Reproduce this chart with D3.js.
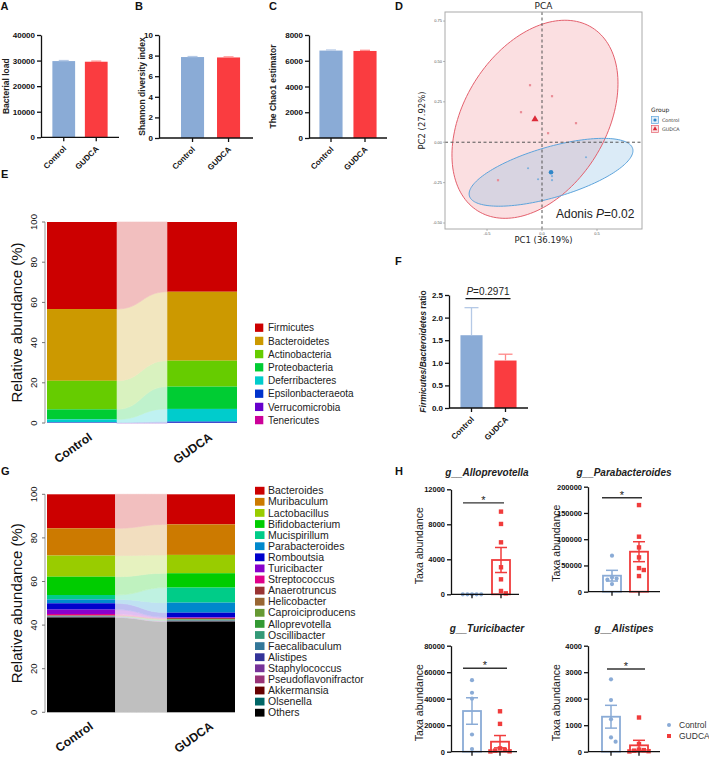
<!DOCTYPE html>
<html><head><meta charset="utf-8">
<script src="https://cdn.jsdelivr.net/npm/d3@7"></script>
<style>body{margin:0;background:#fff} svg{display:block}</style>
</head><body><svg id="chart" width="709" height="757"></svg>
<script>
// ---------------- DATA ----------------
const groups = ["Control", "GUDCA"];
// A-C alpha diversity
const bacterialLoad = [29800, 29550];
const bacterialLoadSem = [220, 220];
const loadTicks = [0, 10000, 20000, 30000, 40000];
const shannonIndex = [7.86, 7.82];
const shannonSem = [0.05, 0.05];
const shannonTicks = [0, 2, 4, 6, 8, 10];
const chao1 = [6790, 6760];
const chao1Sem = [45, 50];
const chaoTicks = [0, 2000, 4000, 6000, 8000];
// D PCA
const pcaControlPoints = [[0.40, -0.093], [-0.127, -0.161], [-0.036, -0.229], [0.091, -0.210], [0.091, -0.235]];
const pcaGudcaPoints = [[-0.109, 0.353], [0.091, 0.285], [-0.191, 0.186], [0.309, 0.118], [0.055, 0.056], [-0.40, -0.235]];
const pcaCentroids = [[0.082, -0.186], [-0.064, 0.142]];
const pcaEllipseU = [[0.742, 0.147], [0.520, 0.567]];
const pcaEllipseV = [[0.064, -0.150], [0.547, -0.233]];
const pcaXTicks = [-0.5, 0, 0.5];
const pcaYTicks = [-0.5, -0.25, 0, 0.25, 0.5, 0.75];
const pcaXLabel = "PC1 (36.19%)";
const pcaYLabel = "PC2 (27.92%)";
const adonisP = "0.02";
// E phylum
const phyla = ["Firmicutes", "Bacteroidetes", "Actinobacteria", "Proteobacteria", "Deferribacteres", "Epsilonbacteraeota", "Verrucomicrobia", "Tenericutes"];
const phylaControl = [43.3, 35.7, 14.2, 5.0, 1.5, 0.2, 0.05, 0.05];
const phylaGudca = [34.7, 34.3, 12.9, 11.1, 6.3, 0.6, 0.05, 0.05];
const phylaColors = ["#CC0000", "#CC9900", "#66CC00", "#00CC33", "#00CCCC", "#0033CC", "#6600CC", "#CC0099"];
const abundanceTicks = [0, 20, 40, 60, 80, 100];
// F
const fbRatio = [1.61, 1.05];
const fbRatioSem = [0.61, 0.14];
const fbTicks = [0, 0.5, 1.0, 1.5, 2.0, 2.5];
const fbP = "0.2971";
// G genus
const genera = ["Bacteroides", "Muribaculum", "Lactobacillus", "Bifidobacterium", "Mucispirillum", "Parabacteroides", "Romboutsia", "Turicibacter", "Streptococcus", "Anaerotruncus", "Helicobacter", "Caproiciproducens", "Alloprevotella", "Oscillibacter", "Faecalibaculum", "Alistipes", "Staphylococcus", "Pseudoflavonifractor", "Akkermansia", "Olsenella", "Others"];
const generaControl = [15.6, 12.5, 9.7, 8.4, 2.0, 1.8, 2.9, 2.0, 0.6, 0.2, 0.1, 0.1, 0.05, 0.1, 0.1, 0.1, 0.05, 0.1, 0.05, 0.05, 43.5];
const generaGudca = [13.8, 14.0, 8.4, 6.6, 6.9, 4.6, 2.1, 0.3, 0.1, 0.4, 0.1, 0.2, 0.3, 0.1, 0.1, 0.1, 0.05, 0.1, 0.05, 0.1, 41.6];
const generaColors = ["#CC0000", "#CC7A00", "#99CC00", "#00CC00", "#00CC88", "#0088CC", "#0000CC", "#8800CC", "#E0008A", "#993333", "#996633", "#669933", "#339933", "#339977", "#337799", "#333399", "#773399", "#993377", "#660000", "#006666", "#000000"];
// H taxa
const alloControl = [0, 0, 0, 0, 0];
const alloGudca = [9450, 8040, 5940, 3090, 1710, 380, 110];
const alloMean = [0, 3920];
const alloSem = [0, 1430];
const alloTicks = [0, 4000, 8000, 12000];
const paraControl = [68600, 25000, 23000, 27000, 14600];
const paraGudca = [165000, 104800, 84400, 65400, 41300, 29800, 45000];
const paraMean = [30500, 76200];
const paraSem = [10200, 19000];
const paraTicks = [0, 50000, 100000, 150000, 200000];
const turiControl = [54000, 44500, 40000, 13000, 2000];
const turiGudca = [30500, 21000, 2500, 1500, 800, 300, 200];
const turiMean = [30700, 7550];
const turiSem = [10000, 4650];
const turiTicks = [0, 20000, 40000, 60000, 80000];
const aliControl = [2730, 1950, 1220, 540, 380];
const aliGudca = [1290, 290, 80, 60, 40, 20, 10];
const aliMean = [1320, 240];
const aliSem = [430, 190];
const aliTicks = [0, 1000, 2000, 3000, 4000];

// ---------------- STYLE ----------------
const FONT = '"Liberation Sans", Arial, Helvetica, sans-serif';
const BLUE = "#8aabd6", RED = "#fa3c40", BLUE_L = "#b5c9e6", RED_L = "#f88";
const svg = d3.select("#chart").attr("font-family", FONT);

function panelLabel(t, x, y) {
  svg.append("text").attr("x", x).attr("y", y).attr("font-size", 11).attr("font-weight", "bold").attr("fill", "#111").text(t);
}
panelLabel("A", 0.5, 10); panelLabel("B", 135, 10); panelLabel("C", 269, 10); panelLabel("D", 395, 10);
panelLabel("E", 1, 178); panelLabel("F", 395, 265); panelLabel("G", 1, 475); panelLabel("H", 395, 475);

function styleAxis(ax, fs, bold) {
  ax.attr("font-family", FONT);
  ax.select(".domain").attr("stroke", "#111").attr("stroke-width", 1.3);
  ax.selectAll(".tick line").attr("stroke", "#111").attr("stroke-width", 1.3);
  ax.selectAll(".tick text").attr("font-size", fs).attr("font-weight", bold ? "bold" : "normal").attr("fill", "#111");
}

// ---------- Prism style bar panels (A, B, C, F) ----------
function barPanel(o) {
  const g = svg.append("g");
  const y = d3.scaleLinear().domain([0, o.max]).range([o.y0, o.y1]);
  const x = d3.scaleBand().domain(groups).range([o.x0, o.x1]).paddingInner(o.pi).paddingOuter(o.po).align(o.align);
  const bw = x.bandwidth();
  g.selectAll("rect").data(groups).join("rect")
    .attr("x", d => x(d)).attr("width", bw)
    .attr("y", (d, i) => y(o.values[i])).attr("height", (d, i) => y(0) - y(o.values[i]))
    .attr("fill", (d, i) => i ? RED : BLUE);
  groups.forEach((d, i) => {
    const cx = x(d) + bw / 2, top = y(o.values[i] + o.sems[i]), b = y(o.values[i]);
    const c = i ? RED_L : BLUE_L;
    g.append("line").attr("x1", cx).attr("x2", cx).attr("y1", b).attr("y2", top).attr("stroke", c).attr("stroke-width", 1.3);
    g.append("line").attr("x1", cx - o.cap).attr("x2", cx + o.cap).attr("y1", top).attr("y2", top).attr("stroke", c).attr("stroke-width", 1.3);
  });
  const ax = g.append("g").attr("transform", `translate(${o.x0},0)`)
    .call(d3.axisLeft(y).tickValues(o.ticks).tickFormat(o.fmt).tickSize(4).tickSizeOuter(0).tickPadding(2));
  styleAxis(ax, 8, true);
  g.append("line").attr("x1", o.x0).attr("x2", o.xEnd).attr("y1", y(0)).attr("y2", y(0)).attr("stroke", "#111").attr("stroke-width", 1.3);
  groups.forEach((d, i) => {
    const cx = x(d) + bw / 2;
    g.append("line").attr("x1", cx).attr("x2", cx).attr("y1", y(0)).attr("y2", y(0) + 4).attr("stroke", "#111").attr("stroke-width", 1.3);
    g.append("text").attr("transform", `translate(${cx + 3},${y(0) + 12}) rotate(-45)`)
      .attr("text-anchor", "end").attr("font-size", 8).attr("font-weight", "bold").attr("fill", "#111").text(d);
  });
  const yl = g.append("text").attr("transform", `translate(${o.labelX},${(o.y0 + o.y1) / 2}) rotate(-90)`)
    .attr("text-anchor", "middle").attr("font-size", 8.5).attr("font-weight", "bold").attr("fill", "#222");
  if (typeof o.label === "string") yl.text(o.label);
  else o.label.forEach(p => yl.append("tspan").attr("font-style", p[1] ? "italic" : "normal").text(p[0]));
  return { g, x, y };
}

const fmtInt = d3.format("d");
barPanel({ x0: 41, x1: 119, xEnd: 119, y0: 137.3, y1: 35, max: 40000, pi: 0.3, po: 0.35, align: 0.5,
  values: bacterialLoad, sems: bacterialLoadSem, ticks: loadTicks, fmt: fmtInt, cap: 5, label: "Bacterial load", labelX: 9 });
barPanel({ x0: 159, x1: 253, xEnd: 253, y0: 138, y1: 35, max: 10, pi: 0.36, po: 0.485, align: 0.63,
  values: shannonIndex, sems: shannonSem, ticks: shannonTicks, fmt: fmtInt, cap: 5, label: "Shannon diversity index", labelX: 145 });
barPanel({ x0: 309, x1: 387, xEnd: 387, y0: 138, y1: 35, max: 8000, pi: 0.32, po: 0.307, align: 0.5,
  values: chao1, sems: chao1Sem, ticks: chaoTicks, fmt: fmtInt, cap: 5, label: "The Chao1 estimator", labelX: 276 });
const pF = barPanel({ x0: 449, x1: 528, xEnd: 528, y0: 408, y1: 295, max: 2.5, pi: 0.35, po: 0.337, align: 0.5,
  values: fbRatio, sems: fbRatioSem, ticks: fbTicks, fmt: d3.format(".1f"), cap: 7,
  label: [["Firmicutes/Bacteroidetes", true], [" ratio", false]], labelX: 426 });
// F significance
{
  const x1 = pF.x("Control") + pF.x.bandwidth() / 2 - 6, x2 = pF.x("GUDCA") + pF.x.bandwidth() / 2 + 5;
  const ly = pF.y(2.42);
  svg.append("line").attr("x1", x1).attr("x2", x2).attr("y1", ly).attr("y2", ly).attr("stroke", "#111").attr("stroke-width", 1.2);
  const t = svg.append("text").attr("x", (x1 + x2) / 2).attr("y", ly - 4).attr("text-anchor", "middle").attr("font-size", 10).attr("fill", "#222");
  t.append("tspan").attr("font-style", "italic").text("P");
  t.append("tspan").text("=" + fbP);
}

// ---------- D: PCA ----------
{
  const L = 445, R = 642, T = 12, B = 229;
  const dx = d3.scaleLinear().domain([-0.882, 0.909]).range([L, R]);
  const dy = d3.scaleLinear().domain([-0.537, 0.806]).range([B, T]);
  const g = svg.append("g");
  g.append("clipPath").attr("id", "pcaclip").append("rect").attr("x", L).attr("y", T).attr("width", R - L).attr("height", B - T);
  const inner = g.append("g").attr("clip-path", "url(#pcaclip)");
  const line = d3.line().x(d => dx(d[0])).y(d => dy(d[1])).curve(d3.curveLinearClosed);
  const ell = (c, u, v) => d3.range(0, 160).map(k => {
    const t = 2 * Math.PI * k / 160;
    return [c[0] + Math.cos(t) * u[0] + Math.sin(t) * v[0], c[1] + Math.cos(t) * u[1] + Math.sin(t) * v[1]];
  });
  const ecol = ["#5da4dc", "#e4606d"], efill = ["#7fb6e3", "#ef8b95"];
  [1, 0].forEach(i => inner.append("path").attr("d", line(ell(pcaCentroids[i], pcaEllipseU[i], pcaEllipseV[i])))
    .attr("fill", efill[i]).attr("fill-opacity", 0.28).attr("stroke", "none"));
  [1, 0].forEach(i => inner.append("path").attr("d", line(ell(pcaCentroids[i], pcaEllipseU[i], pcaEllipseV[i])))
    .attr("fill", "none").attr("stroke", ecol[i]).attr("stroke-width", 1));
  inner.append("line").attr("x1", dx(0)).attr("x2", dx(0)).attr("y1", T).attr("y2", B).attr("stroke", "#555").attr("stroke-dasharray", "3,2.5").attr("stroke-width", 1);
  inner.append("line").attr("x1", L).attr("x2", R).attr("y1", dy(0)).attr("y2", dy(0)).attr("stroke", "#555").attr("stroke-dasharray", "3,2.5").attr("stroke-width", 1);
  inner.selectAll("circle.cp").data(pcaControlPoints).join("circle").attr("cx", d => dx(d[0])).attr("cy", d => dy(d[1])).attr("r", 1.1).attr("fill", "#7fb0dc");
  inner.selectAll("rect.gp").data(pcaGudcaPoints).join("rect").attr("x", d => dx(d[0]) - 1.1).attr("y", d => dy(d[1]) - 1.1).attr("width", 2.2).attr("height", 2.2).attr("fill", "#ea8c96");
  inner.append("circle").attr("cx", dx(pcaCentroids[0][0])).attr("cy", dy(pcaCentroids[0][1])).attr("r", 2.3).attr("fill", "#2f86c8");
  inner.append("path").attr("d", d3.symbol(d3.symbolTriangle, 22)()).attr("transform", `translate(${dx(pcaCentroids[1][0])},${dy(pcaCentroids[1][1])})`).attr("fill", "#dc2a38");
  g.append("rect").attr("x", L).attr("y", T).attr("width", R - L).attr("height", B - T).attr("fill", "none").attr("stroke", "#aaa").attr("stroke-width", 1);
  const fx = d => d === 0 ? "0.0" : d3.format(".1f")(d).replace("−", "-");
  const fy = d => d3.format(".2f")(d).replace("−", "-");
  pcaXTicks.forEach(v => {
    g.append("line").attr("x1", dx(v)).attr("x2", dx(v)).attr("y1", B).attr("y2", B + 2).attr("stroke", "#888").attr("stroke-width", 0.6);
    g.append("text").attr("x", dx(v)).attr("y", B + 5.5).attr("text-anchor", "middle").attr("font-size", 4).attr("fill", "#555").text(fx(v));
  });
  pcaYTicks.forEach(v => {
    g.append("line").attr("x1", L - 2).attr("x2", L).attr("y1", dy(v)).attr("y2", dy(v)).attr("stroke", "#888").attr("stroke-width", 0.6);
    g.append("text").attr("x", L - 3).attr("y", dy(v) + 1.4).attr("text-anchor", "end").attr("font-size", 4).attr("fill", "#555").text(fy(v));
  });
  g.append("text").attr("x", (L + R) / 2).attr("y", 9).attr("text-anchor", "middle").attr("font-size", 9).attr("font-family", "DejaVu Sans").attr("fill", "#222").text("PCA");
  g.append("text").attr("x", (L + R) / 2).attr("y", 243).attr("text-anchor", "middle").attr("font-size", 8.5).attr("font-family", "DejaVu Sans").attr("fill", "#222").text(pcaXLabel);
  g.append("text").attr("transform", `translate(${425},${(T + B) / 2}) rotate(-90)`).attr("text-anchor", "middle").attr("font-size", 8.5).attr("font-family", "DejaVu Sans").attr("fill", "#222").text(pcaYLabel);
  const at = g.append("text").attr("x", 556).attr("y", 218).attr("font-size", 12).attr("fill", "#222");
  at.append("tspan").text("Adonis ");
  at.append("tspan").attr("font-style", "italic").text("P");
  at.append("tspan").text("=" + adonisP);
  // legend
  g.append("text").attr("x", 651).attr("y", 112).attr("font-size", 6).attr("font-family", "DejaVu Sans").attr("fill", "#222").text("Group");
  groups.forEach((d, i) => {
    const cy = 120 + i * 9;
    g.append("rect").attr("x", 651.5).attr("y", cy - 3.5).attr("width", 7).attr("height", 7).attr("fill", efill[i]).attr("fill-opacity", 0.25).attr("stroke", ecol[i]).attr("stroke-width", 0.7);
    if (i === 0) g.append("circle").attr("cx", 655).attr("cy", cy).attr("r", 1.6).attr("fill", "#2f86c8");
    else g.append("path").attr("d", d3.symbol(d3.symbolTriangle, 9)()).attr("transform", `translate(655,${cy})`).attr("fill", "#dc2a38");
    g.append("text").attr("x", 662).attr("y", cy + 1.7).attr("font-size", 4.8).attr("font-family", "DejaVu Sans").attr("fill", "#333").text(d);
  });
}

// ---------- E & G: stacked bars with flows ----------
function stackPanel(o) {
  const g = svg.append("g");
  const y = d3.scaleLinear().domain([0, 100]).range([o.y0, o.y1]);
  const x = d3.scaleBand().domain(groups).range([o.x0, o.x1]).paddingInner(o.pi).paddingOuter(0);
  const bw = x.bandwidth();
  const cum = vals => { const out = []; let acc = 0; for (let i = vals.length - 1; i >= 0; i--) { out[i] = [acc, acc + vals[i]]; acc += vals[i]; } return out; };
  const sc = cum(o.control), sg = cum(o.gudca);
  const xa = x("Control") + bw, xb = x("GUDCA"), xm = (xa + xb) / 2;
  // draw from bottom category up so the seams are covered consistently
  for (let i = o.cats.length - 1; i >= 0; i--) {
    const t0 = y(sc[i][1]), t1 = y(sg[i][1]), b0 = y(sc[i][0]), b1 = y(sg[i][0]);
    const light = d3.interpolateRgb("#ffffff", o.colors[i])(0.25);
    g.append("path").attr("d", `M${xa},${t0}C${xm},${t0} ${xm},${t1} ${xb},${t1}L${xb},${b1}C${xm},${b1} ${xm},${b0} ${xa},${b0}Z`)
      .attr("fill", light).attr("stroke", light).attr("stroke-width", 0.6);
  }
  [sc, sg].forEach((s, j) => {
    o.cats.forEach((c, i) => {
      g.append("rect").attr("x", x(groups[j])).attr("width", bw).attr("y", y(s[i][1])).attr("height", Math.max(0, y(s[i][0]) - y(s[i][1]))).attr("fill", o.colors[i]);
    });
  });
  // y axis (R base style)
  g.append("line").attr("x1", o.axisX).attr("x2", o.axisX).attr("y1", y(0)).attr("y2", y(100)).attr("stroke", "#999").attr("stroke-width", 1);
  abundanceTicks.forEach(v => {
    g.append("line").attr("x1", o.axisX - 3).attr("x2", o.axisX).attr("y1", y(v)).attr("y2", y(v)).attr("stroke", "#777").attr("stroke-width", 1);
    g.append("text").attr("transform", `translate(36.5,${y(v)}) rotate(-90)`).attr("text-anchor", "middle").attr("font-size", 9.5).attr("fill", "#111").text(v);
  });
  g.append("text").attr("transform", `translate(22,${(y(0) + y(100)) / 2}) rotate(-90)`).attr("text-anchor", "middle").attr("font-size", 15).attr("fill", "#111").text("Relative abundance (%)");
  groups.forEach(d => {
    g.append("text").attr("transform", `translate(${x(d) + bw / 2 + o.lblDx},${o.lblY}) rotate(-35)`).attr("text-anchor", "end")
      .attr("font-size", 12).attr("font-weight", "bold").attr("fill", "#111").text(d);
  });
  // legend
  o.cats.forEach((c, i) => {
    const cy = o.legY + i * o.legStep;
    g.append("rect").attr("x", 255).attr("y", cy - o.sq / 2).attr("width", o.sqW).attr("height", o.sq).attr("fill", o.colors[i]);
    g.append("text").attr("x", 268).attr("y", cy + 3.6).attr("font-size", o.legFs).attr("fill", "#222").text(c);
  });
}
stackPanel({ x0: 47, x1: 237, pi: 0.42, y0: 423, y1: 222, axisX: 45, cats: phyla, control: phylaControl, gudca: phylaGudca, colors: phylaColors,
  lblDx: 11, lblY: 439, legY: 327.7, legStep: 13.2, sq: 8.3, sqW: 8.3, legFs: 10 });
stackPanel({ x0: 47, x1: 235, pi: 0.433, y0: 712.3, y1: 494.3, axisX: 45, cats: genera, control: generaControl, gudca: generaGudca, colors: generaColors,
  lblDx: 13, lblY: 728, legY: 490.7, legStep: 11.1, sq: 7.8, sqW: 9.5, legFs: 10.5 });

// ---------- H: dot plots ----------
function swarmOffsets(vals, y, r) {
  const order = vals.map((v, i) => i).sort((a, b) => vals[b] - vals[a]);
  const placed = [], off = [];
  const cands = [0]; for (let k = 1; k < 8; k++) cands.push(k * r * 2, -k * r * 2);
  order.forEach(i => {
    const py = y(vals[i]);
    for (const c of cands) { if (placed.every(p => Math.hypot(p[0] - c, p[1] - py) >= 2 * r - 0.01)) { off[i] = c; placed.push([c, py]); break; } }
  });
  return off;
}
function dotPanel(o) {
  const g = svg.append("g");
  const y = d3.scaleLinear().domain([0, o.max]).range([o.y0, o.y1]);
  const centers = o.centers;
  const bw = 18;
  groups.forEach((d, i) => {
    const c = i ? "#f03c3c" : BLUE;
    g.append("rect").attr("x", centers[i] - bw / 2).attr("width", bw).attr("y", y(o.mean[i])).attr("height", Math.max(0, y(0) - y(o.mean[i])))
      .attr("fill", "none").attr("stroke", c).attr("stroke-width", 1.8);
    const hi = y(o.mean[i] + o.sem[i]), lo = y(Math.max(0, o.mean[i] - o.sem[i]));
    g.append("line").attr("x1", centers[i]).attr("x2", centers[i]).attr("y1", lo).attr("y2", hi).attr("stroke", c).attr("stroke-width", 1.5);
    [hi, lo].forEach(yy => g.append("line").attr("x1", centers[i] - 6).attr("x2", centers[i] + 6).attr("y1", yy).attr("y2", yy).attr("stroke", c).attr("stroke-width", 1.5));
  });
  const oc = swarmOffsets(o.control, y, 2.3);
  g.selectAll("circle").data(o.control).join("circle").attr("cx", (d, i) => centers[0] + oc[i]).attr("cy", d => y(d)).attr("r", 2.1).attr("fill", BLUE);
  const og = swarmOffsets(o.gudca, y, 2.4);
  g.selectAll("rect.pt").data(o.gudca).join("rect").attr("class", "pt").attr("x", (d, i) => centers[1] + og[i] - 2.2).attr("y", d => y(d) - 2.2)
    .attr("width", 4.4).attr("height", 4.4).attr("fill", "#f03c3c");
  const ax = g.append("g").attr("transform", `translate(${o.x0},0)`)
    .call(d3.axisLeft(y).tickValues(o.ticks).tickFormat(d3.format("d")).tickSize(4).tickSizeOuter(0).tickPadding(2));
  styleAxis(ax, 7.5, true);
  g.append("line").attr("x1", o.x0).attr("x2", o.xEnd).attr("y1", y(0)).attr("y2", y(0)).attr("stroke", "#111").attr("stroke-width", 1.3);
  centers.forEach(cx => g.append("line").attr("x1", cx).attr("x2", cx).attr("y1", y(0)).attr("y2", y(0) + 4).attr("stroke", "#111").attr("stroke-width", 1.3));
  const tt = g.append("text").attr("x", o.titleX).attr("y", o.titleY).attr("text-anchor", "middle").attr("font-size", 10).attr("font-weight", "bold").attr("font-style", "italic").attr("fill", "#222");
  tt.text("g__" + o.title);
  g.append("text").attr("transform", `translate(${o.x0 - 28},${(o.y0 + o.y1) / 2 + 4}) rotate(-90)`).attr("text-anchor", "middle").attr("font-size", 10.5).attr("fill", "#222").text("Taxa abundance");
  const ly = y(o.sigV);
  g.append("line").attr("x1", o.sig[0]).attr("x2", o.sig[1]).attr("y1", ly).attr("y2", ly).attr("stroke", "#333").attr("stroke-width", 1.3);
  g.append("text").attr("x", (o.sig[0] + o.sig[1]) / 2).attr("y", ly + 1).attr("text-anchor", "middle").attr("font-size", 11).attr("fill", "#222").text("*");
}
dotPanel({ x0: 451, xEnd: 519, centers: [472, 501], y0: 594.3, y1: 489.3, max: 12000, ticks: alloTicks, control: alloControl, gudca: alloGudca,
  mean: alloMean, sem: alloSem, title: "Alloprevotella", titleX: 487, titleY: 476, sig: [463, 504], sigV: 10450 });
dotPanel({ x0: 588, xEnd: 660, centers: [612, 639], y0: 591.7, y1: 486.7, max: 200000, ticks: paraTicks, control: paraControl, gudca: paraGudca,
  mean: paraMean, sem: paraSem, title: "Parabacteroides", titleX: 624, titleY: 476, sig: [602, 642], sigV: 179000 });
dotPanel({ x0: 451, xEnd: 517, centers: [472, 500], y0: 751.7, y1: 645.7, max: 80000, ticks: turiTicks, control: turiControl, gudca: turiGudca,
  mean: turiMean, sem: turiSem, title: "Turicibacter", titleX: 487, titleY: 632, sig: [463, 507], sigV: 63000 });
dotPanel({ x0: 588, xEnd: 660, centers: [611, 639], y0: 751.7, y1: 645.7, max: 4000, ticks: aliTicks, control: aliControl, gudca: aliGudca,
  mean: aliMean, sem: aliSem, title: "Alistipes", titleX: 624, titleY: 632, sig: [607, 645], sigV: 3120 });
// H legend
svg.append("circle").attr("cx", 669).attr("cy", 725).attr("r", 2).attr("fill", BLUE);
svg.append("text").attr("x", 679).attr("y", 728).attr("font-size", 8.5).attr("fill", "#333").text("Control");
svg.append("rect").attr("x", 667).attr("y", 734).attr("width", 4).attr("height", 4).attr("fill", "#f03c3c");
svg.append("text").attr("x", 679).attr("y", 739).attr("font-size", 8.5).attr("fill", "#333").text("GUDCA");
</script></body></html>
